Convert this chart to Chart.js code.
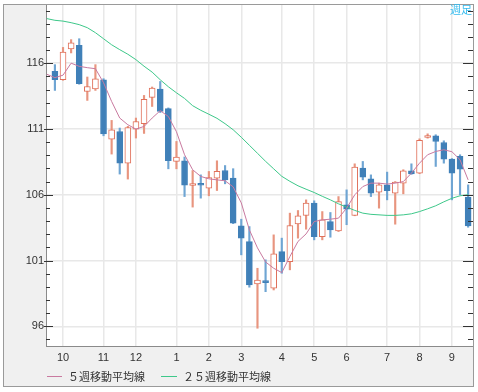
<!DOCTYPE html>
<html>
<head>
<meta charset="utf-8">
<script src="https://cdn.jsdelivr.net/npm/chart.js@4.4.1/dist/chart.umd.min.js"></script>
<style>
  html, body { margin: 0; padding: 0; background: #fff; }
  #wrap { position: relative; width: 478px; height: 392px; }
  #chart { position: absolute; left: 0; top: 0; }
  .lg-line { position: absolute; height: 1px; }
  .lg-text { position: absolute; font: 11px "Noto Sans CJK JP", sans-serif; color: #333; line-height: 14px; white-space: nowrap; }
</style>
</head>
<body>
<div id="wrap">
  <canvas id="chart" width="478" height="392"></canvas>
  <div class="lg-line" style="left:47px; top:376px; width:15px; background:#c97aa0;"></div>
  <div class="lg-text" style="left:68px; top:369px;">５週移動平均線</div>
  <div class="lg-line" style="left:161px; top:376px; width:16px; background:#3ec88a;"></div>
  <div class="lg-text" style="left:183px; top:369px;">２５週移動平均線</div>
</div>
<script>
// weekly candles, index 0 = first full week shown
const opens  = [115.38, 114.74, 117.08, 117.35, 113.85, 114.04, 114.74, 110.23, 110.81, 108.40,
                110.99, 111.40, 113.40, 114.04, 112.54, 108.53, 108.58, 106.70, 106.76, 106.50,
                107.26, 107.84, 107.26, 103.63, 102.44, 99.22, 99.37, 98.89, 101.68, 100.92,
                103.79, 104.42, 105.36, 102.82, 103.96, 103.25, 105.23, 104.42, 108.02, 107.21,
                106.20, 106.75, 106.12, 106.88, 107.82, 107.64, 110.35, 110.48, 109.97, 108.71,
                108.91, 105.82];
const highs  = [115.89, 117.20, 117.79, 117.86, 114.95, 115.89, 114.82, 111.65, 111.07, 111.20,
                111.83, 113.55, 114.19, 114.61, 112.60, 110.05, 108.87, 107.84, 107.51, 107.77,
                108.58, 108.22, 107.98, 104.14, 103.58, 100.41, 101.05, 102.95, 102.70, 104.60,
                104.80, 105.61, 105.54, 104.72, 104.65, 105.86, 106.37, 108.35, 108.53, 107.51,
                106.88, 107.72, 107.00, 107.90, 108.35, 110.25, 110.63, 110.56, 110.10, 108.75,
                109.04, 106.75];
const lows   = [113.93, 114.70, 116.78, 114.40, 113.17, 113.93, 110.48, 109.09, 107.57, 107.19,
                110.31, 110.66, 112.71, 112.25, 107.97, 107.97, 105.86, 105.06, 105.74, 105.92,
                106.32, 106.83, 103.80, 101.43, 98.97, 95.85, 98.63, 98.76, 100.03, 100.29,
                102.70, 103.38, 102.57, 102.57, 102.77, 103.20, 103.72, 104.40, 107.13, 105.86,
                104.98, 105.61, 103.76, 106.07, 107.55, 107.60, 110.30, 108.15, 108.40, 105.61,
                106.00, 103.53];
const closes = [114.74, 116.85, 117.54, 114.44, 114.23, 114.82, 110.63, 110.94, 108.40, 111.11,
                111.57, 113.25, 114.11, 112.33, 108.58, 108.86, 106.73, 106.76, 106.72, 107.31,
                107.77, 107.13, 103.84, 102.70, 99.14, 99.52, 99.32, 101.50, 100.92, 103.66,
                104.39, 105.36, 102.82, 104.09, 103.33, 105.48, 104.90, 108.10, 107.34, 106.12,
                106.75, 106.30, 106.96, 107.82, 107.59, 110.13, 110.48, 110.05, 108.71, 107.64,
                107.95, 103.63];

// moving averages start one week before the first candle
const maStart = -1;
const ma5  = [115.16, 114.90, 115.09, 116.00, 115.76, 115.66, 115.58, 114.52, 113.09, 111.83,
              111.32, 110.99, 111.19, 111.83, 112.39, 111.95, 110.79, 109.04, 107.90, 107.39,
              107.21, 107.13, 107.06, 106.60, 105.38, 103.33, 101.96, 100.89, 100.41, 100.08,
              101.30, 102.45, 103.02, 103.96, 104.09, 104.14, 104.22, 104.98, 105.99, 106.62,
              106.88, 106.88, 106.81, 106.88, 107.00, 107.64, 108.40, 109.04, 109.29, 109.42,
              109.27, 108.66, 107.13];
const ma25 = [119.39, 119.26, 119.20, 119.08, 118.93, 118.70, 118.32, 117.86, 117.40, 117.03,
              116.68, 116.27, 115.77, 115.32, 114.74, 114.21, 113.75, 113.32, 112.77, 112.42,
              112.12, 111.81, 111.40, 110.94, 110.37, 109.76, 109.15, 108.54, 107.97, 107.40,
              107.02, 106.68, 106.42, 106.17, 105.88, 105.61, 105.31, 105.06, 104.81, 104.60,
              104.51, 104.47, 104.43, 104.43, 104.47, 104.55, 104.72, 104.93, 105.16, 105.46,
              105.73, 105.92, 106.00];

const monthTicks  = [1, 6, 10, 15, 19, 23, 28, 32, 36, 41, 45, 49];
const monthLabels = ['10', '11', '12', '1', '2', '3', '4', '5', '6', '7', '8', '9'];

const blue = '#4080b8';
const blueWick = '#6fa5d3';
const red = '#e0705a';
const redWick = '#e8957f';
const tickFont = { family: '"Liberation Sans", Arial, sans-serif', size: 11 };

const isUp = opens.map((o, i) => closes[i] >= o);
const bodies = opens.map((o, i) => ({ x: i, y: [o, closes[i]] }));
const wicks = lows.map((l, i) => ({ x: i, y: [l, highs[i]] }));
const toPoints = arr => arr.map((v, i) => ({ x: i + maStart, y: v }));

const isMajor = v => v % 5 === 1;

const framePlugin = {
    id: 'frame',
    beforeDraw(chart) {
        const { ctx, chartArea: a } = chart;
        ctx.save();
        ctx.fillStyle = '#f0f0f0';
        ctx.fillRect(3, 4, 470, 382);
        ctx.fillStyle = '#fff';
        ctx.fillRect(a.left, a.top, a.right - a.left, a.bottom - a.top);
        ctx.restore();
    },
    afterDraw(chart) {
        const { ctx, chartArea: a } = chart;
        const y = chart.scales.y;
        ctx.save();
        ctx.strokeStyle = '#333';
        ctx.lineWidth = 1;
        ctx.beginPath();
        y.ticks.forEach(t => {
            const py = Math.round(y.getPixelForValue(t.value)) + 0.5;
            const major = isMajor(t.value);
            ctx.moveTo(a.left - (major ? 2 : 0), py);
            ctx.lineTo(a.left + (major ? 7 : 4), py);
            ctx.moveTo(a.right - (major ? 10 : 5), py);
            ctx.lineTo(a.right, py);
        });
        ctx.stroke();

        ctx.strokeStyle = '#9a9a9a';
        ctx.strokeRect(3.5, 4.5, 470, 382);

        ctx.fillStyle = '#33bbee';
        ctx.font = '11px "Noto Sans CJK JP", sans-serif';
        ctx.textAlign = 'right';
        ctx.textBaseline = 'top';
        ctx.fillText('週足', a.right - 1, a.top);
        ctx.restore();
    }
};

const ctx = document.getElementById('chart').getContext('2d');

new Chart(ctx, {
    type: 'bar',
    data: {
        datasets: [
            {
                type: 'line',
                label: '５週移動平均線',
                data: toPoints(ma5),
                borderColor: '#c97aa0',
                borderWidth: 1,
                pointRadius: 0,
                tension: 0,
                order: 0
            },
            {
                type: 'line',
                label: '２５週移動平均線',
                data: toPoints(ma25),
                borderColor: '#3ec88a',
                borderWidth: 1,
                pointRadius: 0,
                tension: 0,
                order: 0
            },
            {
                label: 'body',
                data: bodies,
                backgroundColor: isUp.map(u => (u ? '#ffffff' : blue)),
                borderColor: isUp.map(u => (u ? red : blue)),
                borderWidth: 1,
                borderSkipped: false,
                barThickness: 6,
                minBarLength: 2,
                grouped: false,
                order: 1
            },
            {
                label: 'wick',
                data: wicks,
                backgroundColor: isUp.map(u => (u ? redWick : blueWick)),
                barThickness: 1.5,
                grouped: false,
                order: 2
            }
        ]
    },
    options: {
        responsive: false,
        animation: false,
        layout: { padding: { left: 3, top: 4, right: 5, bottom: 0 } },
        plugins: {
            legend: { display: false },
            tooltip: { enabled: false }
        },
        scales: {
            x: {
                type: 'linear',
                offset: false,
                min: -1.1,
                max: 51.6,
                afterBuildTicks: scale => {
                    scale.ticks = monthTicks.map(v => ({ value: v }));
                },
                afterFit: scale => {
                    scale.height = 46;
                    scale.paddingLeft = 0;
                    scale.paddingRight = 0;
                },
                ticks: {
                    autoSkip: false,
                    maxRotation: 0,
                    padding: 5,
                    font: tickFont,
                    color: '#333',
                    callback: (v, i) => monthLabels[i]
                },
                grid: { color: '#e8e8e8', lineWidth: 1.5, drawTicks: false, offset: false },
                border: { color: '#8a8a8a' }
            },
            y: {
                min: 94.5,
                max: 120.5,
                afterBuildTicks: scale => {
                    const t = [];
                    for (let v = 95; v <= 120; v++) t.push({ value: v });
                    scale.ticks = t;
                },
                afterFit: scale => {
                    scale.width = 43;
                    scale.paddingTop = 0;
                    scale.paddingBottom = 0;
                },
                ticks: {
                    autoSkip: false,
                    padding: 2,
                    font: tickFont,
                    color: '#333',
                    callback: v => (isMajor(v) ? String(v) : '')
                },
                grid: {
                    color: c => (c.tick && isMajor(c.tick.value) ? '#e8e8e8' : 'rgba(0,0,0,0)'),
                    lineWidth: 1.5,
                    drawTicks: false
                },
                border: { color: '#8a8a8a' }
            }
        }
    },
    plugins: [framePlugin]
});
</script>
</body>
</html>
